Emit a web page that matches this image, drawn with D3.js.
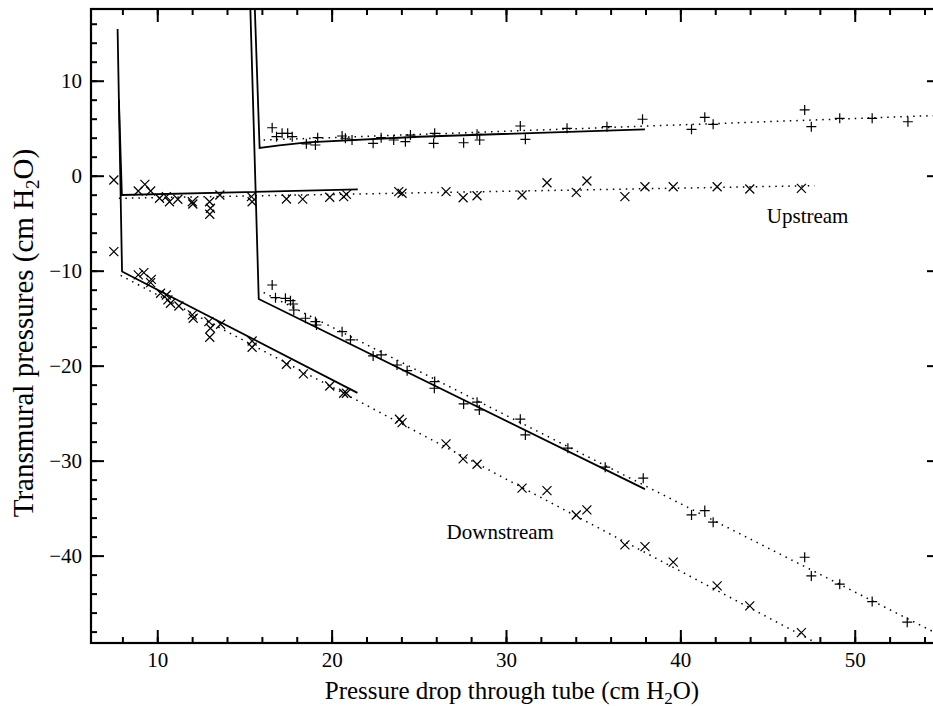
<!DOCTYPE html>
<html>
<head>
<meta charset="utf-8">
<script src="https://cdn.jsdelivr.net/npm/d3@7"></script>
<style>
    body { margin: 0; background: #fff; }
    svg { display: block; }
    text { font-family: "Liberation Serif", "Times New Roman", serif; fill: #000; }
</style>
</head>
<body>
<svg id="chart" width="933" height="706"></svg>
<script>
// measured points, [pressure drop, transmural pressure]
const upstreamCross = [
    [7.51, -0.45], [8.91, -1.61], [9.29, -0.91], [9.62, -1.61], [10.13, -2.38], [10.52, -2.21],
    [10.70, -2.74], [11.18, -2.48], [12.01, -2.74], [12.04, -2.98], [13.0, -2.74], [13.05, -3.43],
    [13.01, -4.06], [13.59, -2.03], [15.40, -2.21], [15.44, -2.74], [17.41, -2.45], [18.34, -2.46],
    [19.89, -2.27], [20.69, -2.21], [20.85, -1.96], [23.85, -1.68], [24.04, -1.85], [26.56, -1.68],
    [27.54, -2.32], [28.34, -2.11], [30.92, -2.03], [32.35, -0.74], [34.03, -1.75], [34.64, -0.56],
    [36.82, -2.21], [37.97, -1.16], [39.59, -1.16], [42.11, -1.16], [43.98, -1.40], [46.94, -1.33]
];
const downstreamCross = [
    [7.51, -8.0], [8.91, -10.45], [9.23, -10.21], [9.62, -11.26], [9.66, -10.91], [10.19, -12.38],
    [10.52, -12.56], [10.61, -13.08], [10.76, -13.43], [11.24, -13.72], [12.01, -14.66], [12.06, -15.01],
    [12.96, -15.37], [13.05, -16.06], [13.01, -17.01], [13.63, -15.64], [15.44, -17.40], [15.44, -18.06],
    [17.41, -19.85], [18.38, -20.87], [19.89, -22.14], [20.69, -22.91], [20.85, -22.91], [23.89, -25.64],
    [24.04, -26.0], [26.56, -28.24], [27.54, -29.82], [28.34, -30.38], [30.92, -32.9], [32.35, -33.16],
    [34.03, -35.72], [34.64, -35.19], [36.82, -38.87], [37.97, -39.05], [39.59, -40.69], [42.11, -43.19],
    [43.98, -45.29], [46.94, -48.1]
];
const upstreamPlus = [
    [16.59, 5.05], [16.84, 4.11], [17.16, 4.46], [17.48, 4.46], [17.74, 4.11], [18.55, 3.35],
    [19.07, 3.23], [19.2, 4.0], [20.60, 4.18], [20.79, 3.94], [21.17, 3.76], [22.38, 3.41],
    [22.84, 4.0], [23.56, 3.76], [24.23, 3.58], [24.52, 4.28], [25.85, 3.41], [25.91, 4.46],
    [27.57, 3.47], [28.34, 4.36], [28.49, 3.76], [30.82, 5.23], [31.11, 3.83], [33.50, 4.99],
    [35.79, 5.16], [37.83, 5.94], [40.64, 4.88], [41.40, 6.15], [41.88, 5.41], [47.13, 6.92],
    [47.51, 5.16], [49.14, 6.04], [51.0, 6.04], [53.05, 5.68]
];
const downstreamPlus = [
    [16.59, -11.51], [16.78, -12.84], [17.35, -12.91], [17.64, -13.16], [17.79, -13.51], [17.83, -14.14],
    [18.50, -15.01], [19.07, -15.37], [19.13, -15.72], [20.60, -16.42], [21.08, -17.29], [22.38, -18.98],
    [22.84, -18.87], [23.75, -19.93], [24.33, -20.53], [25.91, -21.68], [25.89, -22.38], [27.57, -24.03],
    [28.34, -23.85], [28.47, -24.66], [30.82, -25.64], [31.11, -27.29], [33.55, -28.69], [35.69, -30.69],
    [37.87, -31.85], [40.64, -35.72], [41.40, -35.26], [41.88, -36.48], [47.13, -40.17], [47.51, -42.14],
    [49.14, -43.01], [51.0, -44.84], [53.01, -47.01]
];

// model curves (solid)
const modelCurves = [
    [[7.725, 15.44], [7.98, -10.08], [21.48, -22.87]],
    [[7.80, 8.0], [7.97, -2.03], [21.5, -1.45]],
    [[15.55, 20], [15.87, 2.93], [17.0, 3.2], [18.6, 3.5], [25.0, 4.1], [37.97, 4.88]],
    [[15.30, 20], [15.82, -12.98], [37.97, -33.0]]
];
// regression lines (dotted)
const fitLines = [
    [[16.1, 3.75], [54.89, 6.35]],
    [[7.8, -2.38], [47.7, -1.05]],
    [[16.1, -12.3], [54.89, -48.37]],
    [[7.9, -10.5], [47.8, -49.2]]
];

const xMajor = [10, 20, 30, 40, 50];
const xMinor = d3.range(8, 55, 2);
const yMajor = [10, 0, -10, -20, -30, -40];
const yMinor = d3.range(-48, 17, 2);

const labels = [
    {text: "Upstream", x: 47.3, y: -5.0},
    {text: "Downstream", x: 29.67, y: -38.2}
];

const svg = d3.select("#chart");
const plotLeft = 91, plotRight = 940, plotTop = 9, plotBottom = 643;

const xScale = d3.scaleLinear().domain([6.2, 54.89]).range([plotLeft, plotRight]);
const yScale = d3.scaleLinear().domain([-49.2, 17.55]).range([plotBottom, plotTop]);

svg.append("clipPath").attr("id", "plotClip")
    .append("rect")
    .attr("x", plotLeft).attr("y", plotTop)
    .attr("width", plotRight - plotLeft).attr("height", plotBottom - plotTop);

// axes, ticks pointing inward
function tickStyle(g) {
    g.attr("font-family", "Liberation Serif");
    g.select(".domain").remove();
    g.selectAll(".tick line").attr("stroke", "#000").attr("stroke-width", 2);
    g.selectAll(".tick text").attr("font-size", 21);
}

svg.append("g").attr("transform", "translate(0," + plotBottom + ")")
    .call(d3.axisBottom(xScale).tickValues(xMinor).tickSize(-6).tickFormat(""))
    .call(tickStyle);
svg.append("g").attr("transform", "translate(0," + plotBottom + ")")
    .call(d3.axisBottom(xScale).tickValues(xMajor).tickSize(-13).tickPadding(9).tickFormat(d3.format("d")))
    .call(tickStyle);
svg.append("g").attr("transform", "translate(0," + plotTop + ")")
    .call(d3.axisTop(xScale).tickValues(xMinor).tickSize(-6).tickFormat(""))
    .call(tickStyle);
svg.append("g").attr("transform", "translate(0," + plotTop + ")")
    .call(d3.axisTop(xScale).tickValues(xMajor).tickSize(-13).tickFormat(""))
    .call(tickStyle);

svg.append("g").attr("transform", "translate(" + plotLeft + ",0)")
    .call(d3.axisLeft(yScale).tickValues(yMinor).tickSize(-6).tickFormat(""))
    .call(tickStyle);
svg.append("g").attr("transform", "translate(" + plotLeft + ",0)")
    .call(d3.axisLeft(yScale).tickValues(yMajor).tickSize(-13).tickPadding(9).tickFormat(d3.format("d")))
    .call(tickStyle);
svg.append("g").attr("transform", "translate(" + plotRight + ",0)")
    .call(d3.axisRight(yScale).tickValues(yMinor).tickSize(-6).tickFormat(""))
    .call(tickStyle);
svg.append("g").attr("transform", "translate(" + plotRight + ",0)")
    .call(d3.axisRight(yScale).tickValues(yMajor).tickSize(-13).tickFormat(""))
    .call(tickStyle);

svg.append("rect")
    .attr("x", plotLeft).attr("y", plotTop)
    .attr("width", plotRight - plotLeft).attr("height", plotBottom - plotTop)
    .attr("fill", "none").attr("stroke", "#000").attr("stroke-width", 2.2);

const plot = svg.append("g").attr("clip-path", "url(#plotClip)");
const line = d3.line().x(d => xScale(d[0])).y(d => yScale(d[1]));

plot.selectAll(".fit").data(fitLines).enter().append("path")
    .attr("class", "fit")
    .attr("d", line)
    .attr("fill", "none").attr("stroke", "#000")
    .attr("stroke-width", 1.5).attr("stroke-dasharray", "1.5 5");

plot.selectAll(".model").data(modelCurves).enter().append("path")
    .attr("class", "model")
    .attr("d", line)
    .attr("fill", "none").attr("stroke", "#000")
    .attr("stroke-width", 1.8).attr("stroke-linejoin", "miter");

const crossPath = "M-4.5,-4.5L4.5,4.5M-4.5,4.5L4.5,-4.5";
const plusPath = "M-5,0H5M0,-5V5";

[[upstreamCross, crossPath], [downstreamCross, crossPath],
 [upstreamPlus, plusPath], [downstreamPlus, plusPath]].forEach(function (s) {
    plot.append("g").selectAll("path").data(s[0]).enter().append("path")
        .attr("transform", d => "translate(" + xScale(d[0]) + "," + yScale(d[1]) + ")")
        .attr("d", s[1])
        .attr("fill", "none").attr("stroke", "#000").attr("stroke-width", 1.2);
});

svg.selectAll(".label").data(labels).enter().append("text")
    .attr("class", "label")
    .attr("x", d => xScale(d.x)).attr("y", d => yScale(d.y))
    .attr("text-anchor", "middle")
    .attr("font-size", 21)
    .text(d => d.text);

// axis titles
const xTitle = svg.append("text")
    .attr("x", 512).attr("y", 699)
    .attr("text-anchor", "middle")
    .attr("font-size", 25);
xTitle.append("tspan").text("Pressure drop through tube (cm H");
xTitle.append("tspan").attr("font-size", 17).attr("dy", 4.5).text("2");
xTitle.append("tspan").attr("dy", -4.5).text("O)");

const yTitle = svg.append("text")
    .attr("transform", "translate(33,333) rotate(-90)")
    .attr("text-anchor", "middle")
    .attr("font-size", 29);
yTitle.append("tspan").text("Transmural pressures (cm H");
yTitle.append("tspan").attr("font-size", 19).attr("dy", 6).text("2");
yTitle.append("tspan").attr("dy", -6).text("O)");
</script>
</body>
</html>
